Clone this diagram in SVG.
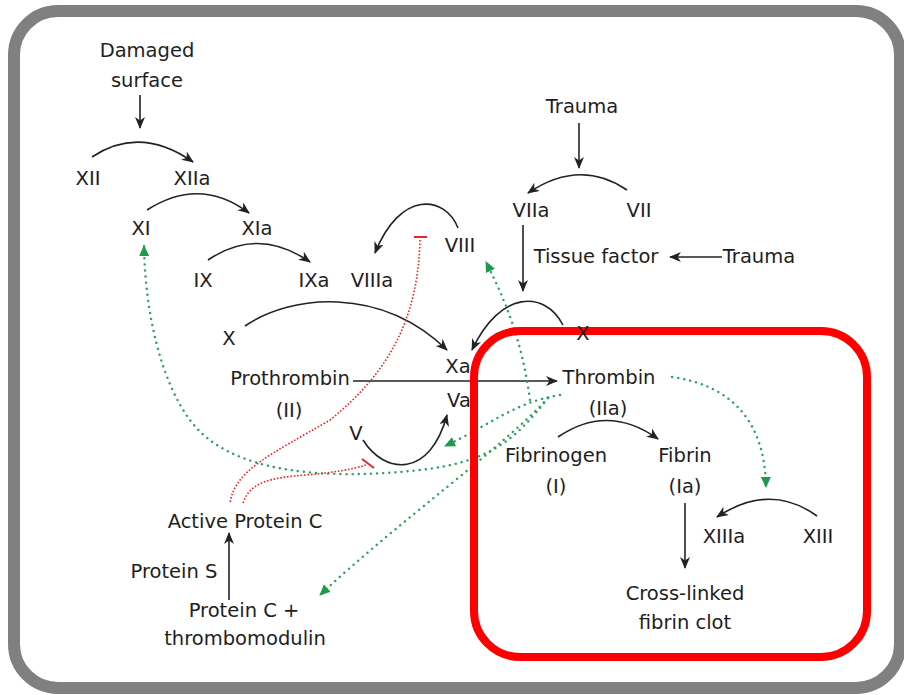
<svg xmlns="http://www.w3.org/2000/svg" width="904" height="695" viewBox="0 0 904 695">
  <style>
    text { font-family: "DejaVu Sans", "Liberation Sans", sans-serif; font-size: 19.5px; fill: #1e1e1e; text-anchor: middle; }
    .arc { fill: none; stroke: #222; stroke-width: 1.6; marker-end: url(#arrow); }
    .line { fill: none; stroke: #222; stroke-width: 1.6; marker-end: url(#arrow); }
    .act { fill: none; stroke: #2ca25f; stroke-width: 2.4; stroke-linecap: round; stroke-dasharray: 0.1 6; marker-end: url(#garrow); }
    .inh { fill: none; stroke: #e8262a; stroke-width: 1.6; stroke-dasharray: 1.6 1.8; }
    .bar { stroke: #e8262a; stroke-width: 2; fill: none; }
  </style>
  <defs>
    <marker id="arrow" markerUnits="userSpaceOnUse" markerWidth="14" markerHeight="12" refX="11" refY="5" orient="auto">
      <path d="M0,0 L12,5 L0,10 L3.5,5 z" fill="#222"/>
    </marker>
    <marker id="garrow" markerUnits="userSpaceOnUse" markerWidth="14" markerHeight="12" refX="10" refY="5" orient="auto">
      <path d="M0,0 L11,5 L0,10 z" fill="#1e9a4a"/>
    </marker>
  </defs>

  <rect width="904" height="695" fill="#fff"/>
  <!-- panel frame -->
  <rect x="14" y="11" width="886" height="677" rx="44" fill="#fff" stroke="#808080" stroke-width="12"/>

  <!-- connectors -->
  <g id="connectors">
    <!-- intrinsic path -->
    <path class="line" d="M140 95 L140 128"/>
    <path class="arc" d="M92 157 Q140 125 193 162"/>
    <path class="arc" d="M147 210 Q200 176 249 213"/>
    <path class="arc" d="M208 260 Q258 226 310 262"/>
    <path class="arc" d="M458 228 C445 195 400 190 375 253"/>
    <!-- extrinsic path -->
    <path class="line" d="M579 123 L579 168"/>
    <path class="arc" d="M627 190 Q580 158 528 193"/>
    <path class="line" d="M523 225 L523 291"/>
    <path class="line" d="M722 257 L670 257"/>
    <!-- common path -->
    <path class="arc" d="M245 326 C290 295 380 285 447 350"/>
    <path class="arc" d="M563 325 C545 290 500 290 472 350"/>
    <path class="line" d="M353 381 L557 381"/>
    <path class="arc" d="M363 440 C385 475 430 478 447 415"/>
    <path class="arc" d="M558 437 Q608 403 658 439"/>
    <path class="arc" d="M817 516 Q770 482 717 517"/>
    <path class="line" d="M685 503 L685 568"/>
    <path class="line" d="M229 600 L229 533"/>

    <!-- thrombin feedback -->
    <path class="act" d="M672 377 C730 385 765 420 766 487"/>
    <path class="act" d="M560 395 C515 402 490 425 445 446"/>
    <path class="act" d="M530 400 C522 340 505 300 486 262"/>
    <path class="act" d="M548 398 C515 440 490 462 420 470 C330 480 230 475 190 420 C160 380 145 310 144 246"/>
    <path class="act" d="M548 398 C500 450 400 520 320 595"/>

    <!-- protein C inhibition -->
    <path class="inh" d="M420 240 C418 315 392 370 330 420 C270 455 235 470 230 503"/>
    <line class="bar" x1="414" y1="237" x2="427" y2="237"/>
    <path class="inh" d="M243 503 C250 482 270 478 305 475 C330 473 350 470 366 465"/>
    <line class="bar" x1="362" y1="459" x2="374" y2="468"/>
  </g>

  <!-- common pathway highlight -->
  <rect x="474" y="331" width="393" height="326" rx="46" fill="none" stroke="#ff0000" stroke-width="8"/>

  <g id="damaged-surface"><text x="147" y="57">Damaged</text><text x="147" y="87">surface</text></g>
  <g id="XII"><text x="88" y="185">XII</text></g>
  <g id="XIIa"><text x="192" y="185">XIIa</text></g>
  <g id="XI"><text x="141" y="235">XI</text></g>
  <g id="XIa"><text x="257" y="235">XIa</text></g>
  <g id="IX"><text x="203" y="287">IX</text></g>
  <g id="IXa"><text x="314" y="287">IXa</text></g>
  <g id="VIIIa"><text x="372" y="287">VIIIa</text></g>
  <g id="VIII"><text x="460" y="252">VIII</text></g>
  <g id="trauma-1"><text x="582" y="113">Trauma</text></g>
  <g id="VIIa"><text x="531" y="217">VIIa</text></g>
  <g id="VII"><text x="639" y="217">VII</text></g>
  <g id="tissue-factor"><text x="596" y="263">Tissue factor</text></g>
  <g id="trauma-2"><text x="759" y="263">Trauma</text></g>
  <g id="X-left"><text x="229" y="345">X</text></g>
  <g id="X-right"><text x="583" y="340">X</text></g>
  <g id="Xa"><text x="458" y="373">Xa</text></g>
  <g id="Va"><text x="459" y="407">Va</text></g>
  <g id="V"><text x="356" y="440">V</text></g>
  <g id="prothrombin"><text x="290" y="385">Prothrombin</text><text x="289" y="417">(II)</text></g>
  <g id="thrombin"><text x="609" y="384">Thrombin</text><text x="608" y="415">(IIa)</text></g>
  <g id="fibrinogen"><text x="556" y="462">Fibrinogen</text><text x="556" y="493">(I)</text></g>
  <g id="fibrin"><text x="685" y="462">Fibrin</text><text x="685" y="493">(Ia)</text></g>
  <g id="XIIIa"><text x="724" y="543">XIIIa</text></g>
  <g id="XIII"><text x="818" y="543">XIII</text></g>
  <g id="clot"><text x="685" y="600">Cross-linked</text><text x="685" y="629">fibrin clot</text></g>
  <g id="active-protein-c"><text x="245" y="528">Active Protein C</text></g>
  <g id="protein-s"><text x="174" y="578">Protein S</text></g>
  <g id="protein-c"><text x="244" y="617">Protein C +</text><text x="245" y="645">thrombomodulin</text></g>
</svg>
